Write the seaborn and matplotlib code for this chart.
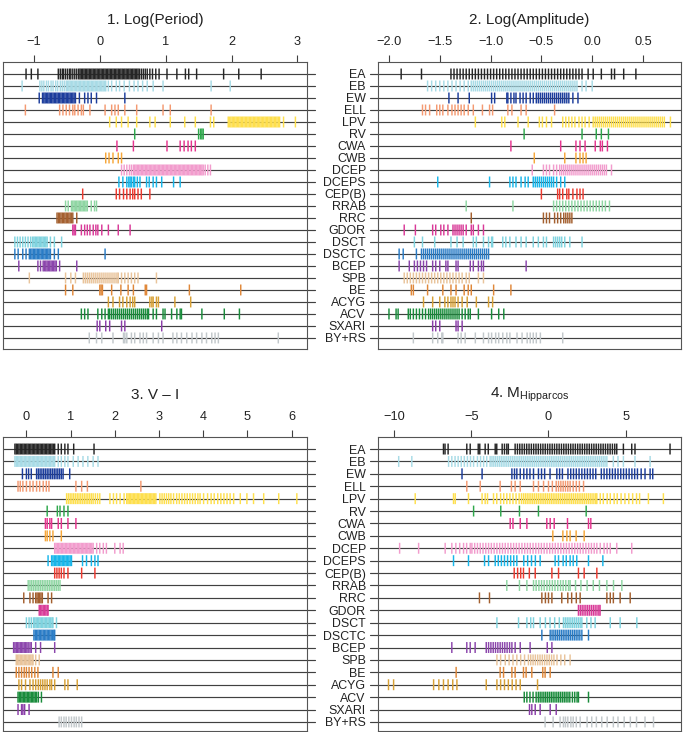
import matplotlib
matplotlib.use("Agg")
import matplotlib.pyplot as plt
import pandas as pd
import seaborn as sns

classes = ["EA", "EB", "EW", "ELL", "LPV", "RV", "CWA", "CWB", "DCEP", "DCEPS",
           "CEP(B)", "RRAB", "RRC", "GDOR", "DSCT", "DSCTC", "BCEP", "SPB", "BE",
           "ACYG", "ACV", "SXARI", "BY+RS"]

colors = ["#262626", "#a8dbe6", "#1c3d9c", "#f49a72", "#fedf4d", "#2ea84c", "#e6358f",
          "#f6a73a", "#f29ccd", "#18b6ea", "#ee3a2f", "#8fd6a3", "#a4602f", "#d93a98",
          "#7fd3df", "#2a7cc6", "#8b45ac", "#e9c49b", "#e0883a", "#d8a136", "#198c3b",
          "#8b3ea9", "#c2c8cb"]

# ---------------- Panel 1: Log(Period) ----------------
per_EA = [-1.12, -1.04, -0.94, -0.63, -0.60, -0.57, -0.55, -0.52, -0.49, -0.46, -0.44, -0.41, -0.38, -0.35, -0.32, -0.30,
          -0.28, -0.26, -0.24, -0.22, -0.20, -0.18, -0.16, -0.14, -0.12, -0.10, -0.08, -0.06, -0.04, -0.02, 0.00, 0.02, 0.04, 0.06, 0.08, 0.10, 0.12, 0.14, 0.16, 0.18, 0.20, 0.22, 0.24, 0.26, 0.28, 0.30, 0.32, 0.34, 0.36, 0.38, 0.40, 0.42, 0.44, 0.46, 0.48, 0.50, 0.52, 0.54, 0.56, 0.58, 0.60,
          0.63, 0.66, 0.69, 0.72, 0.76, 0.80, 0.85, 0.90, 1.02, 1.17, 1.30, 1.35, 1.47, 1.88, 2.11, 2.45]
per_EB = [-1.18, -0.91, -0.88, -0.85, -0.81, -0.78, -0.74, -0.71, -0.67, -0.64, -0.60, -0.57, -0.54,
          -0.51, -0.49, -0.47, -0.45, -0.43, -0.41, -0.39, -0.37, -0.35, -0.33, -0.31, -0.29, -0.27, -0.25, -0.23, -0.21, -0.19, -0.17, -0.15, -0.13, -0.11, -0.09, -0.07, -0.05, -0.03, -0.01, 0.01, 0.03, 0.05, 0.07, 0.09,
          0.13, 0.18, 0.25, 0.30, 0.37, 0.45, 0.52, 0.58, 0.65, 0.72, 0.81, 0.96, 1.69, 1.98]
per_EW = [-0.92, -0.87, -0.85, -0.83, -0.81, -0.79, -0.77, -0.75, -0.73, -0.71, -0.69, -0.67, -0.65, -0.63, -0.61, -0.59, -0.57, -0.55, -0.53, -0.51, -0.49, -0.47, -0.45, -0.43, -0.41, -0.39, -0.37,
          -0.31, -0.23, -0.18, -0.13, -0.05, 0.38]
per_ELL = [-1.13, -0.61, -0.56, -0.51, -0.46, -0.41, -0.38, -0.33, -0.28, -0.25, -0.15, 0.08, 0.18, 0.23, 0.28, 0.38, 0.56, 0.96, 1.07, 1.69]
per_LPV = [0.15, 0.25, 0.33, 0.43, 0.56, 0.76, 0.84, 1.07, 1.29, 1.45, 1.68, 1.73,
           1.95, 1.97, 1.99, 2.01, 2.03, 2.05, 2.07, 2.09, 2.11, 2.13, 2.15, 2.17, 2.19, 2.21, 2.23, 2.25, 2.27, 2.29, 2.31, 2.33, 2.35, 2.37, 2.39, 2.41, 2.43, 2.45, 2.47, 2.49, 2.51, 2.53, 2.55, 2.57, 2.59, 2.61, 2.63, 2.65, 2.67, 2.69, 2.71, 2.73,
           2.79, 2.97]
per_RV = [0.53, 1.50, 1.53, 1.55, 1.57]
per_CWA = [0.26, 0.51, 1.02, 1.22, 1.28, 1.34, 1.39, 1.45]
per_CWB = [0.09, 0.14, 0.20, 0.28, 0.33]
per_DCEP = [0.33, 0.37, 0.41, 0.45, 0.48,
            0.51, 0.53, 0.55, 0.57, 0.59, 0.61, 0.63, 0.65, 0.67, 0.69, 0.71, 0.73, 0.75, 0.77, 0.79, 0.81, 0.83, 0.85, 0.87, 0.89, 0.91, 0.93, 0.95, 0.97, 0.99, 1.01, 1.03, 1.05, 1.07, 1.09, 1.11, 1.13, 1.15, 1.17, 1.19, 1.21, 1.23, 1.25, 1.27, 1.29, 1.31, 1.33, 1.35, 1.37, 1.39, 1.41, 1.43, 1.45, 1.47, 1.49, 1.51, 1.53, 1.55, 1.57,
            1.60, 1.64, 1.68]
per_DCEPS = [0.29, 0.35, 0.41, 0.44, 0.46, 0.48, 0.51, 0.53, 0.57, 0.61, 0.71, 0.75, 0.81, 0.86, 0.94, 1.12, 1.22]
per_CEPB = [-0.26, 0.25, 0.30, 0.36, 0.41, 0.46, 0.50, 0.53, 0.58, 0.63, 0.76]
per_RRAB = [-0.52, -0.48, -0.43, -0.41, -0.39, -0.37, -0.35, -0.33, -0.31, -0.29, -0.27, -0.25, -0.23, -0.21, -0.19, -0.13, -0.08, -0.05]
per_RRC = [-0.65, -0.63, -0.61, -0.59, -0.57, -0.55, -0.53, -0.51, -0.49, -0.47, -0.45, -0.43, -0.41, -0.35]
per_GDOR = [-0.41, -0.39, -0.37, -0.28, -0.23, -0.19, -0.15, -0.10, -0.06, -0.03, 0.03, 0.13, 0.28, 0.46]
per_DSCT = [-1.29, -1.25, -1.21, -1.17, -1.13, -1.09, -1.05, -1.02, -1.00, -0.98, -0.96, -0.94, -0.92, -0.90, -0.88, -0.86, -0.84, -0.82, -0.80, -0.75, -0.69, -0.58]
per_DSCTC = [-1.29, -1.24, -1.17, -1.12, -1.07, -1.05, -1.03, -1.01, -0.99, -0.97, -0.95, -0.93, -0.91, -0.89, -0.87, -0.85, -0.83, -0.81, -0.79, -0.77, -0.75, -0.69, -0.63, 0.08]
per_BCEP = [-1.23, -0.94, -0.90, -0.86, -0.84, -0.82, -0.80, -0.78, -0.76, -0.74, -0.72, -0.70, -0.68, -0.66, -0.61, -0.35]
per_SPB = [-1.07, -0.52, -0.44, -0.37, -0.25, -0.22, -0.19, -0.16, -0.13, -0.10, -0.07, -0.04, -0.01, 0.02, 0.05, 0.08, 0.11, 0.14, 0.17, 0.20, 0.23, 0.26, 0.28, 0.33, 0.38, 0.43, 0.48, 0.53, 0.58, 0.86]
per_BE = [-0.52, -0.41, 0.00, 0.02, 0.04, 0.18, 0.32, 0.43, 0.51, 0.69, 0.71, 1.36, 2.14]
per_ACYG = [0.13, 0.20, 0.30, 0.35, 0.41, 0.46, 0.50, 0.53, 0.76, 0.79, 0.81, 0.86, 0.89, 1.14, 1.38]
per_ACV = [-0.28, -0.23, -0.18, -0.03, 0.03, 0.08, 0.13, 0.15, 0.18, 0.21, 0.24, 0.27, 0.30, 0.33, 0.36, 0.39, 0.42, 0.45, 0.48, 0.51, 0.54, 0.57, 0.60, 0.63, 0.66, 0.69, 0.72, 0.74, 0.81, 0.86, 0.96, 0.99, 1.09, 1.17, 1.22, 1.24, 1.55, 1.89, 2.12]
per_SXARI = [-0.04, 0.00, 0.09, 0.15, 0.33, 0.38, 0.94]
per_BYRS = [-0.16, -0.05, 0.03, 0.20, 0.36, 0.38, 0.41, 0.48, 0.53, 0.61, 0.66, 0.71, 0.81, 0.89, 0.96, 1.11, 1.17, 1.24, 1.32, 1.40, 1.47, 1.55, 1.62, 1.70, 1.75, 1.80, 2.71]

# ---------------- Panel 2: Log(Amplitude) ----------------
amp_EA = [-1.88, -1.68, -1.39, -1.36, -1.33, -1.30, -1.27, -1.24, -1.21, -1.18, -1.15, -1.12, -1.09, -1.06, -1.03, -1.00, -0.97, -0.94, -0.91, -0.88, -0.85, -0.82, -0.79, -0.76, -0.73, -0.70, -0.67, -0.64, -0.61, -0.58, -0.55, -0.52, -0.49, -0.46, -0.43, -0.40, -0.37, -0.34, -0.31, -0.28, -0.25, -0.22, -0.19, -0.16, -0.13, -0.10, -0.04, 0.01, 0.09, 0.19, 0.22, 0.31, 0.43]
amp_EB = [-1.62, -1.58, -1.54, -1.50, -1.46, -1.42, -1.38, -1.34, -1.30, -1.26, -1.22, -1.19,
          -1.17, -1.15, -1.13, -1.11, -1.09, -1.07, -1.05, -1.03, -1.01, -0.99, -0.97, -0.95, -0.93, -0.91, -0.89, -0.87, -0.85, -0.83, -0.81, -0.79, -0.77, -0.75, -0.73, -0.71, -0.69, -0.67, -0.65, -0.63, -0.61, -0.59, -0.57, -0.55, -0.53, -0.51, -0.49, -0.47, -0.45, -0.43, -0.41, -0.39, -0.37, -0.35, -0.33, -0.31, -0.29, -0.27, -0.25, -0.23, -0.21, -0.19, -0.17, -0.15,
          -0.10, -0.06, 0.00]
amp_EW = [-1.41, -1.32, -1.21, -0.99, -0.96, -0.84, -0.83, -0.80, -0.77, -0.75, -0.71, -0.68, -0.65, -0.61, -0.58,
          -0.55, -0.53, -0.51, -0.49, -0.47, -0.45, -0.43, -0.41, -0.39, -0.37, -0.35, -0.33, -0.31, -0.29, -0.27, -0.25, -0.23,
          -0.19, -0.14]
amp_ELL = [-1.67, -1.64, -1.60, -1.53, -1.50, -1.47, -1.42, -1.38, -1.35, -1.32, -1.29, -1.26, -1.22, -1.17, -1.08, -1.01, -0.98, -0.83, -0.79, -0.70, -0.65, -0.37]
amp_LPV = [-1.15, -0.89, -0.86, -0.73, -0.63, -0.52, -0.49, -0.45, -0.40, -0.29, -0.26, -0.23, -0.20, -0.17, -0.13, -0.10, -0.07, -0.03,
           0.01, 0.03, 0.05, 0.07, 0.09, 0.11, 0.13, 0.15, 0.17, 0.19, 0.21, 0.23, 0.25, 0.27, 0.29, 0.31, 0.33, 0.35, 0.37, 0.39, 0.41, 0.43, 0.45, 0.47, 0.49, 0.51, 0.53, 0.55, 0.57, 0.59, 0.61, 0.63, 0.65, 0.67, 0.69, 0.71,
           0.77]
amp_RV = [-0.67, -0.10, 0.04, 0.09, 0.16]
amp_CWA = [-0.80, -0.31, -0.16, -0.12, -0.07, 0.03, 0.08, 0.10, 0.15]
amp_CWB = [-0.57, -0.27, -0.16, -0.12, -0.09, -0.06]
amp_DCEP = [-0.59, -0.48, -0.45, -0.42, -0.38, -0.35,
            -0.32, -0.30, -0.28, -0.26, -0.24, -0.22, -0.20, -0.18, -0.16, -0.14, -0.12, -0.10, -0.08, -0.06, -0.04, -0.02, 0.00, 0.02, 0.04, 0.06, 0.08, 0.10, 0.12, 0.14,
            0.19]
amp_DCEPS = [-1.52, -1.01, -0.81, -0.78, -0.75, -0.70, -0.66, -0.63, -0.58, -0.56, -0.54, -0.52, -0.50, -0.48, -0.46, -0.44, -0.42, -0.40, -0.38, -0.35, -0.31, -0.27]
amp_CEPB = [-0.50, -0.34, -0.32, -0.29, -0.25, -0.23, -0.19, -0.15, -0.12, -0.09]
amp_RRAB = [-1.24, -0.78, -0.38, -0.35, -0.32, -0.29, -0.26, -0.23, -0.20, -0.17, -0.14, -0.11, -0.08, -0.05, -0.02, 0.01, 0.04, 0.07, 0.10, 0.13, 0.17]
amp_RRC = [-1.19, -0.48, -0.45, -0.42, -0.37, -0.34, -0.31, -0.28, -0.26, -0.24, -0.22, -0.20]
amp_GDOR = [-1.85, -1.74, -1.57, -1.54, -1.49, -1.46, -1.42, -1.37, -1.35, -1.33, -1.31, -1.29, -1.27, -1.24, -1.19, -1.17, -1.12, -1.07]
amp_DSCT = [-1.75, -1.67, -1.55, -1.39, -1.33, -1.27, -1.17, -1.14, -1.07, -1.02, -0.99, -0.98, -0.88, -0.85, -0.81, -0.75, -0.70, -0.65, -0.58, -0.53, -0.48, -0.45, -0.38, -0.36, -0.34, -0.32, -0.30, -0.27, -0.22, -0.10]
amp_DSCTC = [-1.90, -1.86, -1.73,
             -1.68, -1.66, -1.64, -1.62, -1.60, -1.58, -1.56, -1.54, -1.52, -1.50, -1.48, -1.46, -1.44, -1.42, -1.40, -1.38, -1.36, -1.34, -1.32, -1.30, -1.28, -1.26, -1.24, -1.22, -1.20, -1.18, -1.16, -1.14, -1.12, -1.10, -1.08, -1.06, -1.04, -1.02]
amp_BCEP = [-1.90, -1.80, -1.75, -1.72, -1.69, -1.66, -1.63, -1.57, -1.54, -1.50, -1.44, -1.42, -1.34, -1.32, -1.20, -1.17, -1.12, -1.09, -1.07, -0.65]
amp_SPB = [-1.85, -1.82, -1.79, -1.76, -1.73, -1.70, -1.67, -1.64, -1.61, -1.58, -1.55, -1.52, -1.49, -1.46, -1.43, -1.40, -1.37, -1.34, -1.31, -1.28, -1.24, -1.21, -1.12, -1.07]
amp_BE = [-1.78, -1.76, -1.62, -1.47, -1.39, -1.34, -1.26, -1.22, -1.19, -0.97, -0.80]
amp_ACYG = [-1.66, -1.57, -1.50, -1.45, -1.42, -1.39, -1.37, -1.35, -1.32, -1.28, -1.23, -1.14, -1.02, -0.98]
amp_ACV = [-2.00, -1.93, -1.91, -1.81, -1.79, -1.76, -1.73, -1.70, -1.67, -1.64,
           -1.61, -1.59, -1.57, -1.55, -1.53, -1.51, -1.49, -1.47, -1.45, -1.43, -1.41, -1.39, -1.37, -1.35, -1.33, -1.31,
           -1.28, -1.25, -1.22, -1.20, -1.12, -0.99, -0.92, -0.87]
amp_SXARI = [-1.57, -1.54, -1.50, -1.34, -1.32, -1.28]
amp_BYRS = [-1.76, -1.57, -1.52, -1.48, -1.47, -1.32, -1.29, -1.25, -1.15, -1.07, -1.02, -0.99, -0.95, -0.92, -0.88, -0.84, -0.81, -0.74, -0.69, -0.64, -0.61, -0.58, -0.55, -0.51, -0.29]

# ---------------- Panel 3: V - I ----------------
vi_EA = [-0.26, -0.23, -0.20, -0.17, -0.14, -0.11, -0.08, -0.05, -0.02, 0.01, 0.04, 0.07, 0.10, 0.13, 0.16, 0.19, 0.22, 0.25, 0.28, 0.31, 0.34, 0.37, 0.40, 0.43, 0.46, 0.49, 0.52, 0.55, 0.58, 0.61, 0.64,
         0.72, 0.79, 0.87, 0.94, 1.07, 1.53]
vi_EB = [-0.26, -0.23, -0.20, -0.17, -0.14, -0.11, -0.08, -0.05, -0.02, 0.01, 0.04, 0.07, 0.10, 0.13, 0.16, 0.19, 0.22, 0.25, 0.28, 0.31, 0.34, 0.37, 0.40, 0.43, 0.46, 0.49, 0.52, 0.55, 0.58, 0.61, 0.64,
         0.72, 0.79, 0.87, 0.94, 1.06, 1.17, 1.28, 1.39, 1.51, 1.62]
vi_EW = [-0.09, 0.00, 0.05, 0.11, 0.23, 0.27, 0.31, 0.35, 0.39, 0.43, 0.47, 0.51, 0.55, 0.59, 0.63, 0.67, 0.71, 0.75, 0.79, 0.83, 0.98]
vi_ELL = [-0.19, -0.14, -0.08, 0.00, 0.08, 0.15, 0.23, 0.30, 0.38, 0.45, 0.51, 1.12, 1.25, 1.38, 2.59]
vi_LPV = [0.91, 0.95, 0.99, 1.03, 1.07, 1.11, 1.15, 1.19, 1.23, 1.27, 1.31, 1.35, 1.39, 1.43, 1.47, 1.51, 1.56, 1.61, 1.66,
          1.89, 1.97, 2.04, 2.12, 2.21,
          2.27, 2.30, 2.33, 2.36, 2.39, 2.42, 2.45, 2.48, 2.51, 2.54, 2.57, 2.60, 2.63, 2.66, 2.69, 2.72, 2.75, 2.78, 2.81, 2.84, 2.87, 2.90, 2.93,
          3.02, 3.07, 3.12, 3.17, 3.22, 3.27, 3.33, 3.40, 3.46, 3.52, 3.58, 3.64, 3.70, 3.76, 3.82, 3.88, 3.93,
          4.01, 4.10, 4.18, 4.25, 4.33, 4.40, 4.47, 4.54, 4.61, 4.69, 4.84, 4.99, 5.14, 5.37, 5.71, 6.12]
vi_RV = [0.47, 0.70, 0.76, 0.85, 0.94]
vi_CWA = [0.43, 0.47, 0.53, 0.57, 0.72, 0.79, 0.94, 1.12]
vi_CWB = [0.43, 0.47, 0.53, 0.60, 0.79]
vi_DCEP = [0.64, 0.67, 0.70, 0.73, 0.76, 0.79, 0.82, 0.85, 0.88, 0.91, 0.94, 0.97, 1.00, 1.03, 1.06, 1.09, 1.12, 1.15, 1.18, 1.21, 1.24, 1.27, 1.30, 1.33, 1.36, 1.39, 1.42, 1.45, 1.48, 1.51,
           1.59, 1.66, 1.74, 1.81, 2.00, 2.12, 2.19]
vi_DCEPS = [0.49, 0.57, 0.60, 0.63, 0.66, 0.69, 0.72, 0.75, 0.78, 0.81, 0.84, 0.87, 0.90, 0.93, 0.96, 0.99, 1.02, 1.27, 1.36, 1.47, 1.55, 1.62]
vi_CEPB = [0.64, 0.69, 0.74, 0.79, 0.85, 0.94, 1.25, 1.55]
vi_RRAB = [0.04, 0.08, 0.12, 0.16, 0.20, 0.24, 0.28, 0.32, 0.36, 0.40, 0.44, 0.48, 0.52, 0.56, 0.60, 0.64, 0.68, 0.72, 0.76]
vi_RRC = [-0.06, 0.08, 0.15, 0.21, 0.24, 0.27, 0.30, 0.33, 0.36, 0.49, 0.57]
vi_GDOR = [0.29, 0.32, 0.35, 0.38, 0.41, 0.44, 0.47, 0.49]
vi_DSCT = [0.00, 0.06, 0.11, 0.16, 0.19, 0.22, 0.25, 0.28, 0.31, 0.34, 0.37, 0.40, 0.43, 0.46, 0.49, 0.52, 0.55, 0.58, 0.60, 0.68]
vi_DSCTC = [0.17, 0.20, 0.23, 0.26, 0.29, 0.32, 0.35, 0.38, 0.41, 0.44, 0.47, 0.50, 0.53, 0.56, 0.59, 0.62, 0.64]
vi_BCEP = [-0.29, -0.26, -0.23, -0.20, -0.17, -0.14, -0.11, -0.08, -0.05, -0.02, 0.01, 0.04, 0.08, 0.11, 0.21, 0.32, 0.64]
vi_SPB = [-0.23, -0.20, -0.17, -0.14, -0.11, -0.08, -0.05, -0.02, 0.01, 0.04, 0.07, 0.10, 0.13, 0.15, 0.21, 0.29]
vi_BE = [-0.23, -0.17, -0.11, -0.05, 0.00, 0.06, 0.12, 0.19, 0.26, 0.60, 0.72]
vi_ACYG = [-0.17, -0.11, -0.02, 0.08, 0.15, 0.21, 0.27, 0.32, 0.37, 0.42, 0.47, 0.53, 0.57, 0.64, 0.87, 0.94, 1.15]
vi_ACV = [-0.19, -0.16, -0.13, -0.10, -0.07, -0.04, -0.01, 0.02, 0.05, 0.08, 0.11, 0.14, 0.17, 0.20, 0.23, 0.27, 0.34]
vi_SXARI = [-0.19, -0.11, -0.08, -0.04, 0.06]
vi_BYRS = [0.74, 0.79, 0.85, 0.90, 0.96, 1.02, 1.08, 1.13, 1.19, 1.25]

# ---------------- Panel 4: M_Hipparcos ----------------
mh_EA = [-6.80, -6.70, -6.50, -5.29, -5.07, -4.55, -4.45, -4.10, -3.90, -3.45, -3.35, -3.00, -2.85, -2.70, -2.60, -2.16, -2.01, -1.86, -1.71, -1.56, -1.41, -1.26, -1.11, -0.96, -0.81, -0.66, -0.51, -0.36, -0.21, -0.06, 0.09, 0.24, 0.39, 0.54, 0.69, 0.84, 0.99, 1.14, 1.29, 1.44, 1.59, 1.74, 1.89, 2.04, 2.19, 2.34, 2.49, 2.64, 2.79, 2.94, 3.09, 3.24, 3.39, 3.54, 3.69, 3.84, 3.99, 4.14, 4.29, 4.42, 4.85, 5.39, 5.60, 7.87]
mh_EB = [-9.70, -8.85, -6.47, -6.26, -6.05, -5.85, -5.65, -5.45, -5.25, -5.05, -4.85, -4.60, -4.40, -4.20, -4.00,
         -3.78, -3.66, -3.54, -3.42, -3.30, -3.18, -3.06, -2.94, -2.82, -2.70, -2.58, -2.46, -2.34, -2.22, -2.10, -1.98, -1.86, -1.74, -1.62, -1.50, -1.38, -1.26, -1.14, -1.02, -0.90, -0.78, -0.66, -0.54, -0.42, -0.30, -0.18, -0.06, 0.06, 0.18, 0.30, 0.42, 0.54, 0.66, 0.78, 0.90, 1.02, 1.14, 1.26, 1.38, 1.50, 1.62, 1.74, 1.86, 1.98, 2.10, 2.22, 2.34, 2.46, 2.58, 2.70, 2.82, 2.94, 3.06, 3.18, 3.30, 3.42, 3.54, 3.66, 3.78,
         4.20, 4.50, 4.85, 5.60, 6.58]
mh_EW = [-5.60, -4.30, -2.37, -2.20, -2.05, -1.83, -1.60, -1.40, -1.20, -0.97, -0.65, -0.45, -0.25, 0.10, 0.54, 0.72, 0.90, 1.26, 1.44, 1.62, 1.80, 1.98, 2.16, 2.34, 2.52, 2.70, 2.88, 3.06, 3.42, 3.60, 3.78, 3.96, 4.14, 4.32, 4.50, 4.68, 4.86, 5.04, 5.22, 5.40, 5.58, 5.76, 6.00, 6.25, 6.58, 6.75]
mh_ELL = [-5.29, -4.42, -3.13, -2.40, -2.16, -1.83, -0.97, -0.65, -0.32, 0.00, 0.25, 0.50, 0.65, 0.80, 0.95, 1.10, 1.25, 1.40, 1.60, 1.80, 2.00, 2.27]
mh_LPV = [-8.63, -6.15, -6.04, -5.18, -4.30, -4.10, -3.95, -3.56, -3.35, -3.10, -2.90, -2.70, -2.50, -2.30, -2.10, -1.90, -1.75,
          -1.62, -1.50, -1.38, -1.26, -1.14, -1.02, -0.90, -0.78, -0.66, -0.54, -0.42, -0.30, -0.18, -0.06, 0.06, 0.18, 0.30, 0.42, 0.54, 0.66, 0.78, 0.90, 1.02, 1.14, 1.26, 1.38, 1.50, 1.62, 1.74, 1.86, 1.98, 2.10, 2.22, 2.34, 2.46, 2.58, 2.70, 2.82, 2.94, 3.06, 3.13,
          3.35, 3.55, 3.80, 4.00, 4.25, 4.45, 4.70, 4.95, 5.20, 5.45, 5.70, 5.90, 6.47, 7.44]
mh_RV = [-4.85, -3.09, -1.88, -0.65, 2.44]
mh_CWA = [-2.48, -2.30, -1.83, -1.40, -0.11, 0.11, 0.37, 1.23, 2.59, 2.74]
mh_CWB = [0.28, 0.93, 1.19, 1.40, 1.79, 2.31]
mh_DCEP = [-9.64, -8.41, -6.69, -6.26, -6.00, -5.75, -5.50, -5.30, -5.07, -4.96, -4.78, -4.60, -4.42, -4.24, -4.06, -3.88, -3.70, -3.52, -3.34, -3.16, -2.98, -2.80, -2.62, -2.44, -2.26, -2.08, -1.90, -1.72, -1.54, -1.36, -1.18, -1.00, -0.82, -0.64, -0.46, -0.28, -0.10, 0.08, 0.26, 0.44, 0.62, 0.80, 0.98, 1.16, 1.34, 1.52, 1.70, 1.88, 2.06, 2.24, 2.42, 2.60, 2.78, 2.96, 3.13, 3.35, 3.60, 3.80, 4.00, 4.42, 5.39]
mh_DCEPS = [-6.15, -5.18, -4.14, -3.88, -3.45, -3.25, -3.05, -2.85, -2.65, -2.45, -2.25, -2.05, -1.60, -1.35, -1.10, -0.85, -0.54, 0.43, 0.65, 0.95, 1.15, 1.40, 1.60, 1.83, 2.59, 3.52]
mh_CEPB = [-2.22, -2.00, -1.80, -1.62, -1.24, -0.86, 0.22, 0.65, 1.94, 2.31, 3.13]
mh_RRAB = [-2.70, -1.88, -1.40, -0.97, -0.80, -0.62, -0.45, -0.28, -0.10, 0.07, 0.25, 0.42, 0.60, 0.78, 0.95, 1.12, 1.30, 1.40, 1.75, 2.10, 2.50, 2.90, 3.30, 3.78, 4.21, 4.75]
mh_RRC = [-4.47, -3.82, -0.43, -0.20, 0.00, 0.22, 0.86, 1.25, 1.50, 1.80, 2.05, 3.78, 4.00, 4.20, 4.64, 5.29]
mh_GDOR = [1.94, 2.06, 2.18, 2.30, 2.42, 2.54, 2.66, 2.78, 2.90, 3.02, 3.14, 3.26, 3.34]
mh_DSCT = [-3.34, -1.94, -1.40, -1.15, -0.97, -0.54, -0.20, 0.10, 0.40, 0.70, 0.97, 1.09, 1.21, 1.33, 1.45, 1.57, 1.69, 1.81, 1.93, 2.05, 2.16, 2.48, 2.75, 3.02, 4.00, 4.64, 5.72]
mh_DSCTC = [-0.43, 0.11, 0.23, 0.35, 0.47, 0.59, 0.71, 0.83, 0.95, 1.07, 1.19, 1.31, 1.43, 1.55, 1.67, 1.79, 1.91, 2.03, 2.16, 2.59]
mh_BCEP = [-6.26, -5.29, -5.07, -4.75, -4.03, -3.88, -3.73, -3.58, -3.43, -3.28, -3.13, -2.98, -2.83, -2.68, -2.52, -2.37, -2.16, -1.83, -1.19, -0.08, 0.22]
mh_SPB = [-3.34, -3.10, -2.80, -2.55, -2.30, -2.05, -1.80, -1.55, -1.30, -1.15, -1.00, -0.85, -0.70, -0.55, -0.40, -0.25, -0.10, 0.05, 0.20, 0.35, 0.55, 0.80, 1.05, 1.40]
mh_BE = [-5.98, -3.13, -2.91, -2.37, -2.16, -1.62, -1.45, -1.08, -0.37, -0.22, 0.11]
mh_ACYG = [-10.36, -10.03, -7.44, -7.10, -6.80, -6.50, -6.20, -5.93, -4.03, -3.34, -3.10, -2.85, -2.60, -2.35, -2.10, -1.83, -0.71]
mh_ACV = [-1.57, -1.40, -1.20, -1.00, -0.80, -0.66, -0.54, -0.42, -0.30, -0.18, -0.06, 0.06, 0.18, 0.30, 0.42, 0.54, 0.66, 0.78, 0.90, 1.02, 1.14, 1.26, 1.38, 1.55, 1.70, 1.85, 1.94, 2.59]
mh_SXARI = [-1.23, -1.08, -0.86, -0.54, 0.11, 0.50]
mh_BYRS = [-0.22, 0.30, 0.75, 0.97, 1.10, 1.25, 1.45, 1.60, 1.80, 2.05, 2.50, 2.80, 3.10, 3.45, 3.80, 4.20, 4.50, 4.90, 5.30, 5.70, 6.25, 6.80]

period_vals = [per_EA, per_EB, per_EW, per_ELL, per_LPV, per_RV, per_CWA, per_CWB, per_DCEP,
               per_DCEPS, per_CEPB, per_RRAB, per_RRC, per_GDOR, per_DSCT, per_DSCTC, per_BCEP,
               per_SPB, per_BE, per_ACYG, per_ACV, per_SXARI, per_BYRS]
amp_vals = [amp_EA, amp_EB, amp_EW, amp_ELL, amp_LPV, amp_RV, amp_CWA, amp_CWB, amp_DCEP,
            amp_DCEPS, amp_CEPB, amp_RRAB, amp_RRC, amp_GDOR, amp_DSCT, amp_DSCTC, amp_BCEP,
            amp_SPB, amp_BE, amp_ACYG, amp_ACV, amp_SXARI, amp_BYRS]
vi_vals = [vi_EA, vi_EB, vi_EW, vi_ELL, vi_LPV, vi_RV, vi_CWA, vi_CWB, vi_DCEP,
           vi_DCEPS, vi_CEPB, vi_RRAB, vi_RRC, vi_GDOR, vi_DSCT, vi_DSCTC, vi_BCEP,
           vi_SPB, vi_BE, vi_ACYG, vi_ACV, vi_SXARI, vi_BYRS]
mh_vals = [mh_EA, mh_EB, mh_EW, mh_ELL, mh_LPV, mh_RV, mh_CWA, mh_CWB, mh_DCEP,
           mh_DCEPS, mh_CEPB, mh_RRAB, mh_RRC, mh_GDOR, mh_DSCT, mh_DSCTC, mh_BCEP,
           mh_SPB, mh_BE, mh_ACYG, mh_ACV, mh_SXARI, mh_BYRS]

titles = ["1. Log(Period)", "2. Log(Amplitude)", "3. V \u2013 I", r"4. M$_{\mathrm{Hipparcos}}$"]
xticks_list = [[-1, 0, 1, 2, 3], [-2.0, -1.5, -1.0, -0.5, 0.0, 0.5], [0, 1, 2, 3, 4, 5, 6], [-10, -5, 0, 5]]
xticklabels_list = [["\u22121", "0", "1", "2", "3"],
                    ["\u22122.0", "\u22121.5", "\u22121.0", "\u22120.5", "0.0", "0.5"],
                    ["0", "1", "2", "3", "4", "5", "6"],
                    ["\u221210", "\u22125", "0", "5"]]

# ---------------- styling ----------------
sns.set_style("white")
plt.rcParams["font.family"] = ["Liberation Sans", "DejaVu Sans"]
plt.rcParams["mathtext.fontset"] = "custom"
plt.rcParams["mathtext.rm"] = "Liberation Sans"
plt.rcParams["mathtext.it"] = "Liberation Sans:italic"

W, H = 690, 732
LINE = "#404040"
palette = dict(zip(classes, colors))

fig = plt.figure(figsize=(W / 100, H / 100), dpi=100)


def rect(l, t, r, b):
    return [l / W, 1 - b / H, (r - l) / W, (b - t) / H]


layout = [
    # (left, top, right, bottom, xlim, ylim, side, title_baseline)
    (3, 62, 307, 349, (-1.47, 3.146), (22.92, -1.0), "left", 24),
    (378, 62, 681, 349, (-2.108, 0.874), (22.92, -1.0), "right", 24),
    (3, 437, 307, 731, (-0.53, 6.35), (22.73, -0.97), "left", 399),
    (378, 437, 681, 731, (-11.04, 8.58), (22.73, -0.97), "right", 398),
]
all_vals = [period_vals, amp_vals, vi_vals, mh_vals]

for k, (l, t, r, b, xlim, ylim, side, tb) in enumerate(layout):
    ax = fig.add_axes(rect(l, t, r, b))
    rows = []
    for i, (c, vals) in enumerate(zip(classes, all_vals[k])):
        for v in vals:
            rows.append((c, i, v))
    df = pd.DataFrame(rows, columns=["cls", "row", "value"])

    width = r - l
    if side == "left":
        x0, x1 = 0.0, (315 - l) / width
    else:
        x0, x1 = (370 - l) / width, 1.0
    for i in range(len(classes)):
        ax.axhline(i, xmin=x0, xmax=x1, color=LINE, lw=0.85, zorder=1, clip_on=False)

    sns.scatterplot(data=df, x="value", y="row", hue="cls", hue_order=classes,
                    palette=palette, marker="|", s=62, linewidth=1.05,
                    legend=False, ax=ax, zorder=3, snap=False)
    for coll in ax.collections:
        coll.set_snap(False)

    ax.set_xlim(*xlim)
    ax.set_ylim(*ylim)
    ax.set_xlabel("")
    ax.set_ylabel("")
    ax.set_xticks(xticks_list[k])
    ax.set_xticklabels(xticklabels_list[k])
    ax.tick_params(axis="x", top=True, labeltop=True, bottom=False, labelbottom=False,
                   direction="out", length=5, width=0.8, color=LINE, pad=5.0,
                   labelsize=9.2, labelcolor="#222222")
    ax.set_yticks(range(len(classes)))
    if side == "right":
        ax.set_yticklabels(classes)
        ax.tick_params(axis="y", left=False, right=False, length=0, pad=8.8,
                       labelsize=8.9, labelcolor="#222222")
    else:
        ax.set_yticklabels([])
        ax.tick_params(axis="y", left=False, right=False, length=0)
    for sp in ax.spines.values():
        sp.set_visible(True)
        sp.set_color("#555555")
        sp.set_linewidth(0.8)

    fig.text((l + r) / 2 / W, 1 - tb / H, titles[k], ha="center", va="baseline",
             fontsize=11, color="#222222")

fig.savefig("out.png", dpi=100)
